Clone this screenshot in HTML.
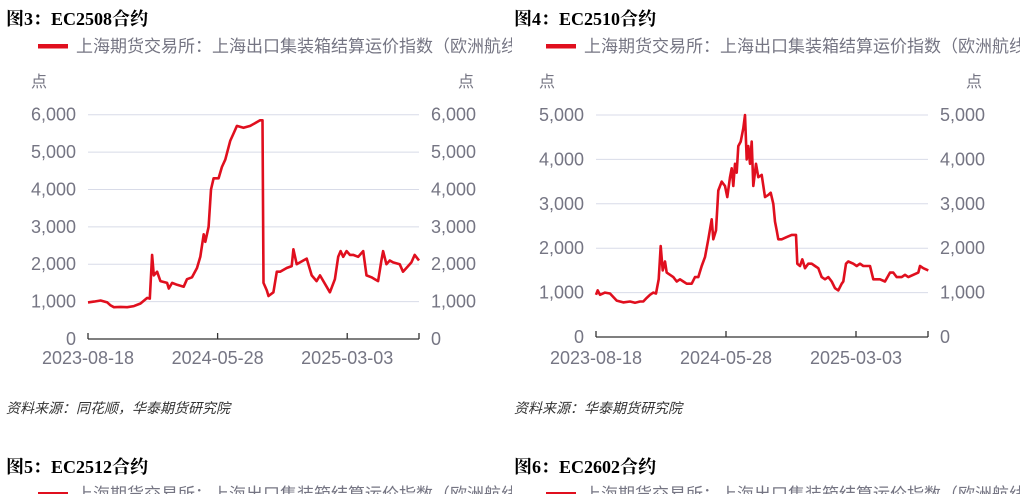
<!DOCTYPE html>
<html><head><meta charset="utf-8"><style>
html,body{margin:0;padding:0;background:#fff;width:1026px;height:494px;overflow:hidden}
svg text{font-family:"Liberation Sans","Noto Sans CJK SC",sans-serif}
svg text.ttl{font-family:"Liberation Serif","Noto Serif CJK SC",serif}
</style></head><body>
<svg id="s" width="1026" height="494" xmlns="http://www.w3.org/2000/svg">
<defs><clipPath id="c1"><rect x="0" y="0" width="512" height="494"/></clipPath><clipPath id="c2"><rect x="512" y="0" width="508" height="494"/></clipPath></defs>
<g id="p1" clip-path="url(#c1)"></g>
<g id="p2" clip-path="url(#c2)"></g>
</svg>
<script>
// EC2508 data (progress index 0..996 across 2023-08-18 .. 2025-08)
const t1=[0,18,38,58,68,78,98,118,138,158,178,186,193,198,208,218,238,243,253,268,288,298,313,328,338,348,353,363,370,378,393,403,413,428,438,448,468,488,518,525,528,538,543,558,568,578,598,613,618,628,638,648,658,673,688,698,728,743,753,760,768,778,788,798,813,828,838,853,863,873,883,888,898,908,918,938,948,958,973,983,996];
const v1=[980,1000,1030,980,900,850,860,850,880,950,1100,1080,2250,1700,1800,1550,1500,1350,1500,1450,1400,1600,1650,1900,2200,2800,2600,3000,4000,4300,4300,4600,4800,5300,5500,5700,5650,5700,5850,5850,1500,1300,1150,1250,1800,1800,1900,1950,2400,2000,2050,2100,2150,1700,1550,1700,1250,1600,2200,2350,2200,2350,2250,2250,2200,2350,1700,1650,1600,1550,2100,2350,2000,2100,2050,2000,1800,1900,2050,2250,2100];
// EC2510 data
const t2=[0,5,12,27,42,52,62,72,82,102,117,132,142,152,162,172,180,188,194,200,207,212,222,232,242,252,262,272,287,297,307,317,327,337,347,352,360,367,377,387,394,402,407,412,417,422,427,434,442,447,452,457,462,467,472,480,487,497,507,517,524,532,537,542,547,557,572,587,600,604,612,619,627,637,647,657,667,677,687,697,707,717,727,737,742,750,757,772,782,792,802,822,832,852,867,882,892,902,917,927,937,952,967,972,982,997];
const v2=[950,1050,950,1000,980,900,820,800,780,800,770,800,800,880,950,1000,980,1300,2050,1500,1700,1450,1400,1350,1250,1300,1250,1200,1200,1350,1350,1600,1800,2200,2650,2200,2400,3300,3500,3400,3150,3600,3800,3400,3900,3700,4300,4400,4700,5000,4000,4300,3900,4400,3400,3900,3600,3650,3150,3200,3250,3000,2600,2400,2200,2200,2250,2300,2300,1650,1600,1750,1550,1650,1650,1600,1550,1350,1300,1350,1250,1100,1050,1200,1250,1650,1700,1650,1600,1650,1600,1600,1300,1300,1250,1450,1450,1350,1350,1400,1350,1400,1450,1600,1550,1500];
const ticks1=[0,1000,2000,3000,4000,5000,6000];
const ticks2=[0,1000,2000,3000,4000,5000];
const dateLabels=["2023-08-18","2024-05-28","2025-03-03"];
const dateIdx=[0,390,780];
const NS="http://www.w3.org/2000/svg";
function mk(p,tag,a,txt){const e=document.createElementNS(NS,tag);for(const k in a)e.setAttribute(k,a[k]);if(txt!=null)e.textContent=txt;p.appendChild(e);return e;}
function chart(gid,ox,title,src,ticks,ymax,t,v,y0,yTop,x0,x1){
 const g=document.getElementById(gid);
 let e=mk(g,'text',{x:ox+6,y:25,'font-size':18,'font-weight':'bold',fill:'#000','class':'ttl'},title);
 
 
 e=mk(g,'rect',{x:ox+38,y:44,width:30,height:4.5,fill:'#e00f1e'});
 
 
 e=mk(g,'text',{x:ox+76,y:52,'font-size':17,fill:'#757583'},'上海期货交易所：上海出口集装箱结算运价指数（欧洲航线）');
 
 
 e=mk(g,'text',{x:ox+31,y:87,'font-size':16,fill:'#757583'},'点');
 
 
 e=mk(g,'text',{x:ox+458,y:87,'font-size':16,fill:'#757583'},'点');
 
 
 const Y=val=>y0-(val/ymax)*(y0-yTop);
 const X=i=>x0+(i/996)*(x1-x0);
 ticks.forEach(tk=>{
  const y=Y(tk);
  if(tk>0){const l=mk(g,'line',{x1:x0,x2:x1,y1:y,y2:y,stroke:'#d8dbe8','stroke-width':1});
   
   }
  const s=tk.toLocaleString('en-US');
  let a=mk(g,'text',{x:x0-12,y:y+6,'font-size':18,fill:'#757583','text-anchor':'end'},s);
  
  
  a=mk(g,'text',{x:x1+12,y:y+6,'font-size':18,fill:'#757583'},s);
  
  
 });
 e=mk(g,'line',{x1:x0,x2:x1,y1:y0,y2:y0,stroke:'#333','stroke-width':1.3});
 
 
 dateIdx.concat([996]).forEach(i=>{const l=mk(g,'line',{x1:X(i),x2:X(i),y1:y0-6,y2:y0,stroke:'#333','stroke-width':1.3});
  
  });
 dateLabels.forEach((d,k)=>{const a=mk(g,'text',{x:X(dateIdx[k]),y:364,'font-size':18,fill:'#757583','text-anchor':'middle'},d);
  
  });
 const pts=t.map((ti,k)=>X(ti).toFixed(1)+','+Y(v[k]).toFixed(1)).join(' ');
 e=mk(g,'polyline',{points:pts,fill:'none',stroke:'#e00f1e','stroke-width':2.6,'stroke-linejoin':'round'});
 
 
 e=mk(g,'text',{x:ox+6,y:413,'font-size':14,'font-style':'italic',fill:'#333'},src);
 
 
}
chart('p1',0,'图3：EC2508合约','资料来源：同花顺，华泰期货研究院',ticks1,6000,t1,v1,339,114.7,88,419);
chart('p2',508,'图4：EC2510合约','资料来源：华泰期货研究院',ticks2,5000,t2,v2,337,115,596,928);
const s=document.getElementById('s');
const g3=mk(s,'g',{'clip-path':'url(#c1)'});


const g4=mk(s,'g',{'clip-path':'url(#c2)'});


function bottomHeader(g,ox,title){
 let e=mk(g,'text',{x:ox+6,y:473,'font-size':18,'font-weight':'bold',fill:'#000','class':'ttl'},title);
 
 
 e=mk(g,'rect',{x:ox+38,y:492,width:30,height:4.5,fill:'#e00f1e'});
 
 
 e=mk(g,'text',{x:ox+76,y:500,'font-size':17,fill:'#757583'},'上海期货交易所：上海出口集装箱结算运价指数（欧洲航线）');
 
 
}
bottomHeader(g3,0,'图5：EC2512合约');
bottomHeader(g4,508,'图6：EC2602合约');
</script>
</body></html>
